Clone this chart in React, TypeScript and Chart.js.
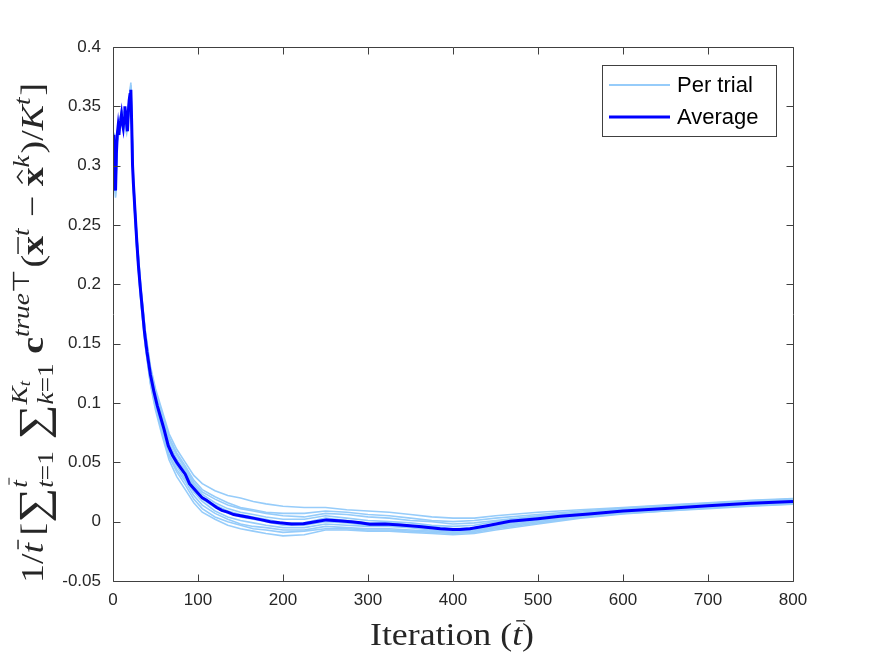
import React, { useEffect, useRef } from "react";
import { Chart, registerables } from "chart.js";

Chart.register(...registerables);

// ---------------- data ----------------
const X_TICKS = [0, 100, 200, 300, 400, 500, 600, 700, 800];
const X_TICK_LABELS = ["0", "100", "200", "300", "400", "500", "600", "700", "800"];
const Y_TICKS = [-0.05, 0, 0.05, 0.1, 0.15, 0.2, 0.25, 0.3, 0.35, 0.4];
const Y_TICK_LABELS = ["-0.05", "0", "0.05", "0.1", "0.15", "0.2", "0.25", "0.3", "0.35", "0.4"];

const LEGEND_LABELS = ["Per trial", "Average"];

// Average curve (iteration, value)
const AVG_T = [1, 2, 3, 4, 5, 6, 7, 8, 9, 10, 11, 12, 13, 14, 15, 16, 17, 18, 19, 20, 21, 22, 23, 24, 26, 28, 30, 32, 34, 37, 40, 44, 48, 52, 56, 60, 65, 70, 75, 80, 85, 90, 95, 100, 105, 110, 116, 122, 128, 135, 142, 150, 158, 165, 175, 185, 196, 210, 224, 238, 251, 265, 280, 291, 302, 320, 338, 360, 385, 400, 408, 420, 440, 467, 500, 526, 560, 600, 650, 700, 750, 800];
const AVG_VALUES = [0.326, 0.300, 0.279, 0.310, 0.326, 0.333, 0.326, 0.335, 0.338, 0.343, 0.336, 0.332, 0.340, 0.350, 0.343, 0.335, 0.329, 0.345, 0.355, 0.360, 0.364, 0.335, 0.300, 0.285, 0.260, 0.236, 0.215, 0.198, 0.183, 0.160, 0.143, 0.124, 0.110, 0.098, 0.088, 0.078, 0.064, 0.056, 0.050, 0.045, 0.040, 0.032, 0.028, 0.024, 0.020, 0.018, 0.015, 0.012, 0.0095, 0.008, 0.006, 0.005, 0.004, 0.003, 0.0015, 0.0, -0.001, -0.002, -0.0018, 0.0, 0.0015, 0.0008, 0.0, -0.001, -0.0022, -0.002, -0.0028, -0.004, -0.006, -0.0065, -0.0065, -0.006, -0.0035, 0.0003, 0.0025, 0.0045, 0.0065, 0.009, 0.011, 0.0135, 0.0155, 0.017];

// Per-trial curves share these iterations
const TRIAL_T = [1, 3, 5, 8, 10, 13, 16, 18, 21, 24, 28, 33, 38, 44, 50, 58, 66, 75, 85, 95, 105, 120, 135, 150, 165, 180, 200, 225, 250, 275, 300, 325, 350, 375, 400, 425, 450, 500, 550, 600, 650, 700, 750, 800];
const TRIAL_1 = [0.327, 0.283, 0.329, 0.338, 0.347, 0.344, 0.339, 0.350, 0.370, 0.290, 0.241, 0.196, 0.161, 0.131, 0.112, 0.093, 0.074, 0.061, 0.050, 0.039, 0.032, 0.026, 0.022, 0.020, 0.017, 0.015, 0.013, 0.012, 0.012, 0.010, 0.009, 0.008, 0.006, 0.004, 0.003, 0.003, 0.005, 0.008, 0.010, 0.012, 0.014, 0.016, 0.018, 0.0195];
const TRIAL_2 = [0.325, 0.281, 0.327, 0.337, 0.345, 0.342, 0.337, 0.348, 0.367, 0.288, 0.240, 0.194, 0.159, 0.128, 0.108, 0.088, 0.069, 0.056, 0.045, 0.033, 0.025, 0.019, 0.014, 0.011, 0.009, 0.007, 0.005, 0.004, 0.007, 0.006, 0.004, 0.003, 0.001, 0.000, -0.002, -0.001, 0.001, 0.005, 0.008, 0.011, 0.013, 0.015, 0.017, 0.018];
const TRIAL_3 = [0.326, 0.277, 0.325, 0.334, 0.344, 0.341, 0.333, 0.346, 0.366, 0.287, 0.238, 0.193, 0.158, 0.127, 0.106, 0.086, 0.066, 0.053, 0.043, 0.031, 0.023, 0.016, 0.011, 0.008, 0.006, 0.004, 0.002, 0.002, 0.005, 0.003, 0.001, 0.000, -0.001, -0.003, -0.004, -0.003, 0.000, 0.004, 0.007, 0.010, 0.012, 0.014, 0.016, 0.0175];
const TRIAL_4 = [0.325, 0.278, 0.326, 0.335, 0.342, 0.339, 0.334, 0.345, 0.363, 0.285, 0.237, 0.191, 0.156, 0.125, 0.105, 0.084, 0.064, 0.051, 0.041, 0.029, 0.021, 0.014, 0.009, 0.006, 0.004, 0.002, -0.001, -0.001, 0.003, 0.001, -0.001, -0.001, -0.003, -0.004, -0.006, -0.005, -0.002, 0.003, 0.0065, 0.0095, 0.0115, 0.014, 0.016, 0.0172];
const TRIAL_5 = [0.327, 0.280, 0.324, 0.333, 0.341, 0.338, 0.332, 0.343, 0.361, 0.283, 0.235, 0.189, 0.154, 0.123, 0.103, 0.082, 0.062, 0.049, 0.039, 0.027, 0.019, 0.012, 0.007, 0.004, 0.002, 0.000, -0.003, -0.003, 0.000, -0.001, -0.003, -0.003, -0.004, -0.006, -0.007, -0.006, -0.003, 0.002, 0.0055, 0.0085, 0.0105, 0.013, 0.015, 0.0165];
const TRIAL_6 = [0.324, 0.276, 0.323, 0.332, 0.340, 0.337, 0.331, 0.342, 0.360, 0.282, 0.233, 0.187, 0.152, 0.121, 0.101, 0.080, 0.060, 0.047, 0.036, 0.025, 0.017, 0.009, 0.004, 0.001, -0.001, -0.003, -0.005, -0.005, -0.002, -0.003, -0.004, -0.004, -0.005, -0.007, -0.008, -0.007, -0.004, 0.001, 0.005, 0.008, 0.010, 0.0125, 0.0145, 0.016];
const TRIAL_7 = [0.323, 0.274, 0.322, 0.331, 0.339, 0.336, 0.329, 0.340, 0.358, 0.280, 0.231, 0.185, 0.150, 0.119, 0.098, 0.077, 0.057, 0.044, 0.034, 0.022, 0.014, 0.007, 0.002, -0.002, -0.004, -0.005, -0.007, -0.007, -0.004, -0.005, -0.006, -0.006, -0.007, -0.008, -0.009, -0.008, -0.005, 0.000, 0.004, 0.0075, 0.0095, 0.012, 0.014, 0.0155];
const TRIAL_8 = [0.322, 0.273, 0.320, 0.330, 0.337, 0.335, 0.327, 0.339, 0.357, 0.279, 0.229, 0.183, 0.148, 0.117, 0.096, 0.075, 0.055, 0.042, 0.031, 0.019, 0.011, 0.004, 0.000, -0.003, -0.006, -0.007, -0.009, -0.008, -0.006, -0.006, -0.007, -0.007, -0.008, -0.009, -0.010, -0.009, -0.006, -0.001, 0.0035, 0.007, 0.009, 0.0115, 0.0135, 0.015];
const TRIAL_9 = [0.326, 0.279, 0.322, 0.331, 0.338, 0.336, 0.330, 0.341, 0.359, 0.281, 0.230, 0.184, 0.148, 0.116, 0.094, 0.072, 0.052, 0.038, 0.027, 0.016, 0.008, 0.002, -0.003, -0.006, -0.008, -0.010, -0.012, -0.011, -0.007, -0.007, -0.008, -0.008, -0.009, -0.010, -0.011, -0.010, -0.007, -0.002, 0.003, 0.0065, 0.009, 0.011, 0.013, 0.0148];
const TRIAL_10 = [0.328, 0.282, 0.328, 0.337, 0.346, 0.343, 0.338, 0.349, 0.368, 0.289, 0.240, 0.195, 0.160, 0.129, 0.110, 0.090, 0.071, 0.058, 0.047, 0.035, 0.027, 0.021, 0.016, 0.012, 0.010, 0.008, 0.007, 0.007, 0.009, 0.008, 0.006, 0.005, 0.003, 0.001, 0.000, 0.001, 0.003, 0.006, 0.009, 0.0115, 0.0135, 0.0155, 0.0175, 0.019];
const TRIALS = [TRIAL_1, TRIAL_2, TRIAL_3, TRIAL_4, TRIAL_5, TRIAL_6, TRIAL_7, TRIAL_8, TRIAL_9, TRIAL_10];

// ---------------- styles ----------------
const TRIAL_COLOR = "rgb(150,204,250)";
const AVG_COLOR = "rgb(0,0,255)";
const AXIS_COLOR = "#404040";
const TEXT_COLOR = "#262626";
const SANS = '"Liberation Sans", Arial, sans-serif';
const SERIF = '"Liberation Serif", "Times New Roman", serif';

type Run = { t: string; st?: string; s?: number; dy?: number; acc?: string };
type Item = Run | { sup?: Run[]; sub?: Run[] };

const Y_LABEL_RUNS: Item[] = [
  { t: "1/" },
  { t: "t", st: "i", acc: "bar" },
  { t: "\u2009[" },
  { t: "\u2211", s: 1.3, dy: 0.13 },
  { sup: [{ t: "t", st: "i", s: 0.72, dy: -0.5, acc: "bar" }], sub: [{ t: "t", st: "i", s: 0.72, dy: 0.32 }, { t: "=1", s: 0.72, dy: 0.32 }] },
  { t: "\u2009\u2211", s: 1.3, dy: 0.13 },
  { sup: [{ t: "K", st: "i", s: 0.72, dy: -0.5 }, { t: "t", st: "i", s: 0.5, dy: -0.4 }], sub: [{ t: "k", st: "i", s: 0.72, dy: 0.32 }, { t: "=1", s: 0.72, dy: 0.32 }] },
  { t: "\u2009c", st: "b" },
  { sup: [{ t: "true", st: "i", s: 0.72, dy: -0.45 }, { t: "\u22A4", s: 0.72, dy: -0.45 }] },
  { t: "(" },
  { t: "x", st: "b", acc: "bar" },
  { sup: [{ t: "t", st: "i", s: 0.72, dy: -0.45 }] },
  { t: " \u2212 " },
  { t: "x", st: "b", acc: "hat" },
  { sup: [{ t: "k", st: "i", s: 0.72, dy: -0.45 }] },
  { t: ")/" },
  { t: "K", st: "i" },
  { sup: [{ t: "t", st: "i", s: 0.72, dy: -0.4 }] },
  { t: "]" },
];

const X_LABEL_RUNS: Item[] = [
  { t: "Iteration (" },
  { t: "t", st: "i", acc: "bar" },
  { t: ")" },
];

function fontOf(r: Run, base: number) {
  const size = base * (r.s ?? 1);
  const style = r.st === "i" ? "italic " : "";
  const weight = r.st === "b" ? "bold " : "";
  return `${style}${weight}${size}px ${SERIF}`;
}

function runWidth(ctx: CanvasRenderingContext2D, r: Run, base: number) {
  ctx.font = fontOf(r, base);
  return ctx.measureText(r.t).width;
}

function itemWidth(ctx: CanvasRenderingContext2D, it: Item, base: number) {
  if ("t" in it) return runWidth(ctx, it, base);
  const w = (rs?: Run[]) => (rs ? rs.reduce((a, r) => a + runWidth(ctx, r, base), 0) : 0);
  return Math.max(w(it.sup), w(it.sub)) + base * 0.05;
}

function drawRun(ctx: CanvasRenderingContext2D, r: Run, base: number, x: number, y: number) {
  const size = base * (r.s ?? 1);
  ctx.font = fontOf(r, base);
  const yy = y + (r.dy ?? 0) * base;
  ctx.fillText(r.t, x, yy);
  const w = ctx.measureText(r.t).width;
  if (r.acc === "bar") {
    const slant = r.st === "i" ? size * 0.1 : 0;
    ctx.save();
    ctx.lineWidth = Math.max(1, size * 0.045);
    ctx.beginPath();
    ctx.moveTo(x + w * 0.05 + slant, yy - size * 0.78);
    ctx.lineTo(x + w * 0.95 + slant, yy - size * 0.78);
    ctx.stroke();
    ctx.restore();
  } else if (r.acc === "hat") {
    ctx.save();
    ctx.lineWidth = Math.max(1, size * 0.045);
    ctx.beginPath();
    ctx.moveTo(x + w * 0.15, yy - size * 0.64);
    ctx.lineTo(x + w * 0.5, yy - size * 0.8);
    ctx.lineTo(x + w * 0.85, yy - size * 0.64);
    ctx.stroke();
    ctx.restore();
  }
  return w;
}

function drawItems(ctx: CanvasRenderingContext2D, items: Item[], base: number, x0: number, y: number) {
  let x = x0;
  for (const it of items) {
    if ("t" in it) {
      x += drawRun(ctx, it, base, x, y);
    } else {
      let xs = x;
      for (const r of it.sup ?? []) xs += drawRun(ctx, r, base, xs, y);
      let xb = x;
      for (const r of it.sub ?? []) xb += drawRun(ctx, r, base, xb, y);
      x = Math.max(xs, xb) + base * 0.05;
    }
  }
}

function totalWidth(ctx: CanvasRenderingContext2D, items: Item[], base: number) {
  return items.reduce((a, it) => a + itemWidth(ctx, it, base), 0);
}

// draws text runs stretched along the text direction to a given length
function drawStretched(ctx: CanvasRenderingContext2D, items: Item[], base: number, length: number) {
  const w = totalWidth(ctx, items, base);
  ctx.save();
  ctx.scale(length / w, 1);
  drawItems(ctx, items, base, -w / 2, 0);
  ctx.restore();
}

const matlabPlugin = {
  id: "matlabDecor",
  afterDatasetsDraw(chart: any) {
    const { ctx, chartArea: a, scales } = chart;
    ctx.save();
    ctx.strokeStyle = AXIS_COLOR;
    ctx.lineWidth = 1;
    const L = Math.round(a.left) + 0.5;
    const R = Math.round(a.right) + 0.5;
    const T = Math.round(a.top) + 0.5;
    const B = Math.round(a.bottom) + 0.5;
    ctx.beginPath();
    ctx.rect(L, T, R - L, B - T);
    const tl = 7;
    for (const v of X_TICKS) {
      const px = Math.round(scales.x.getPixelForValue(v)) + 0.5;
      ctx.moveTo(px, B);
      ctx.lineTo(px, B - tl);
      ctx.moveTo(px, T);
      ctx.lineTo(px, T + tl);
    }
    for (const v of Y_TICKS) {
      const py = Math.round(scales.y.getPixelForValue(v)) + 0.5;
      ctx.moveTo(L, py);
      ctx.lineTo(L + tl, py);
      ctx.moveTo(R, py);
      ctx.lineTo(R - tl, py);
    }
    ctx.stroke();

    // legend
    const lx = Math.round(a.right) - 191;
    const ly = Math.round(a.top) + 18;
    const lw = 174;
    const lh = 71;
    ctx.fillStyle = "#ffffff";
    ctx.fillRect(lx, ly, lw, lh);
    ctx.strokeStyle = AXIS_COLOR;
    ctx.strokeRect(lx + 0.5, ly + 0.5, lw, lh);
    const entries = [
      { label: LEGEND_LABELS[0], ds: chart.data.datasets[1] },
      { label: LEGEND_LABELS[1], ds: chart.data.datasets[0] },
    ];
    entries.forEach((e, i) => {
      const yy = ly + 20 + i * 32;
      ctx.strokeStyle = e.ds.borderColor;
      ctx.lineWidth = e.ds.borderWidth === 3 ? 3 : 2;
      ctx.beginPath();
      ctx.moveTo(lx + 7, yy);
      ctx.lineTo(lx + 68, yy);
      ctx.stroke();
      ctx.fillStyle = "#000000";
      ctx.font = `22px ${SANS}`;
      ctx.textBaseline = "middle";
      ctx.textAlign = "left";
      ctx.fillText(e.label, lx + 75, yy + 1);
    });

    // axis titles
    ctx.fillStyle = TEXT_COLOR;
    ctx.strokeStyle = TEXT_COLOR;
    ctx.textBaseline = "alphabetic";
    ctx.textAlign = "left";
    ctx.save();
    ctx.translate((a.left + a.right) / 2 - 1, a.bottom + 64);
    drawStretched(ctx, X_LABEL_RUNS, 31, 164);
    ctx.restore();

    ctx.save();
    ctx.translate(43, 333);
    ctx.rotate(-Math.PI / 2);
    drawStretched(ctx, Y_LABEL_RUNS, 32, 500);
    ctx.restore();

    ctx.restore();
  },
};

export default function App() {
  const ref = useRef<HTMLCanvasElement | null>(null);

  useEffect(() => {
    if (!ref.current) return;
    const datasets: any[] = [
      {
        label: LEGEND_LABELS[1],
        data: AVG_T.map((t, i) => ({ x: t, y: AVG_VALUES[i] })),
        borderColor: AVG_COLOR,
        borderWidth: 3,
        pointRadius: 0,
        tension: 0,
        fill: false,
      },
      ...TRIALS.map((vals, k) => ({
        label: k === 0 ? LEGEND_LABELS[0] : `${LEGEND_LABELS[0]} ${k + 1}`,
        data: TRIAL_T.map((t, i) => ({ x: t, y: vals[i] })),
        borderColor: TRIAL_COLOR,
        borderWidth: 1.6,
        pointRadius: 0,
        tension: 0,
        fill: false,
      })),
    ];

    const chart = new Chart(ref.current, {
      type: "line",
      data: { datasets },
      options: {
        responsive: false,
        animation: false,
        layout: { padding: { left: 0, right: 82, top: 47, bottom: 0 } },
        plugins: { legend: { display: false }, tooltip: { enabled: false } },
        scales: {
          x: {
            type: "linear",
            min: 0,
            max: 800,
            grid: { display: false, drawTicks: false },
            border: { display: false },
            afterBuildTicks: (s: any) => {
              s.ticks = X_TICKS.map((v) => ({ value: v }));
            },
            afterFit: (s: any) => {
              s.height = 76;
            },
            ticks: {
              padding: 9,
              color: TEXT_COLOR,
              font: { family: SANS, size: 17 },
              maxRotation: 0,
              autoSkip: false,
              callback: (_v: any, i: number) => X_TICK_LABELS[i],
            },
          },
          y: {
            type: "linear",
            min: -0.05,
            max: 0.4,
            grid: { display: false, drawTicks: false },
            border: { display: false },
            afterBuildTicks: (s: any) => {
              s.ticks = Y_TICKS.map((v) => ({ value: v }));
            },
            afterFit: (s: any) => {
              s.width = 113;
            },
            ticks: {
              padding: 12,
              color: TEXT_COLOR,
              font: { family: SANS, size: 17 },
              autoSkip: false,
              callback: (_v: any, i: number) => Y_TICK_LABELS[i],
            },
          },
        },
      },
      plugins: [matlabPlugin],
    });
    return () => chart.destroy();
  }, []);

  return (
    <div style={{ position: "fixed", left: 0, top: 0, width: 875, height: 657, background: "#ffffff" }}>
      <canvas ref={ref} width={875} height={657} style={{ display: "block" }} />
    </div>
  );
}
